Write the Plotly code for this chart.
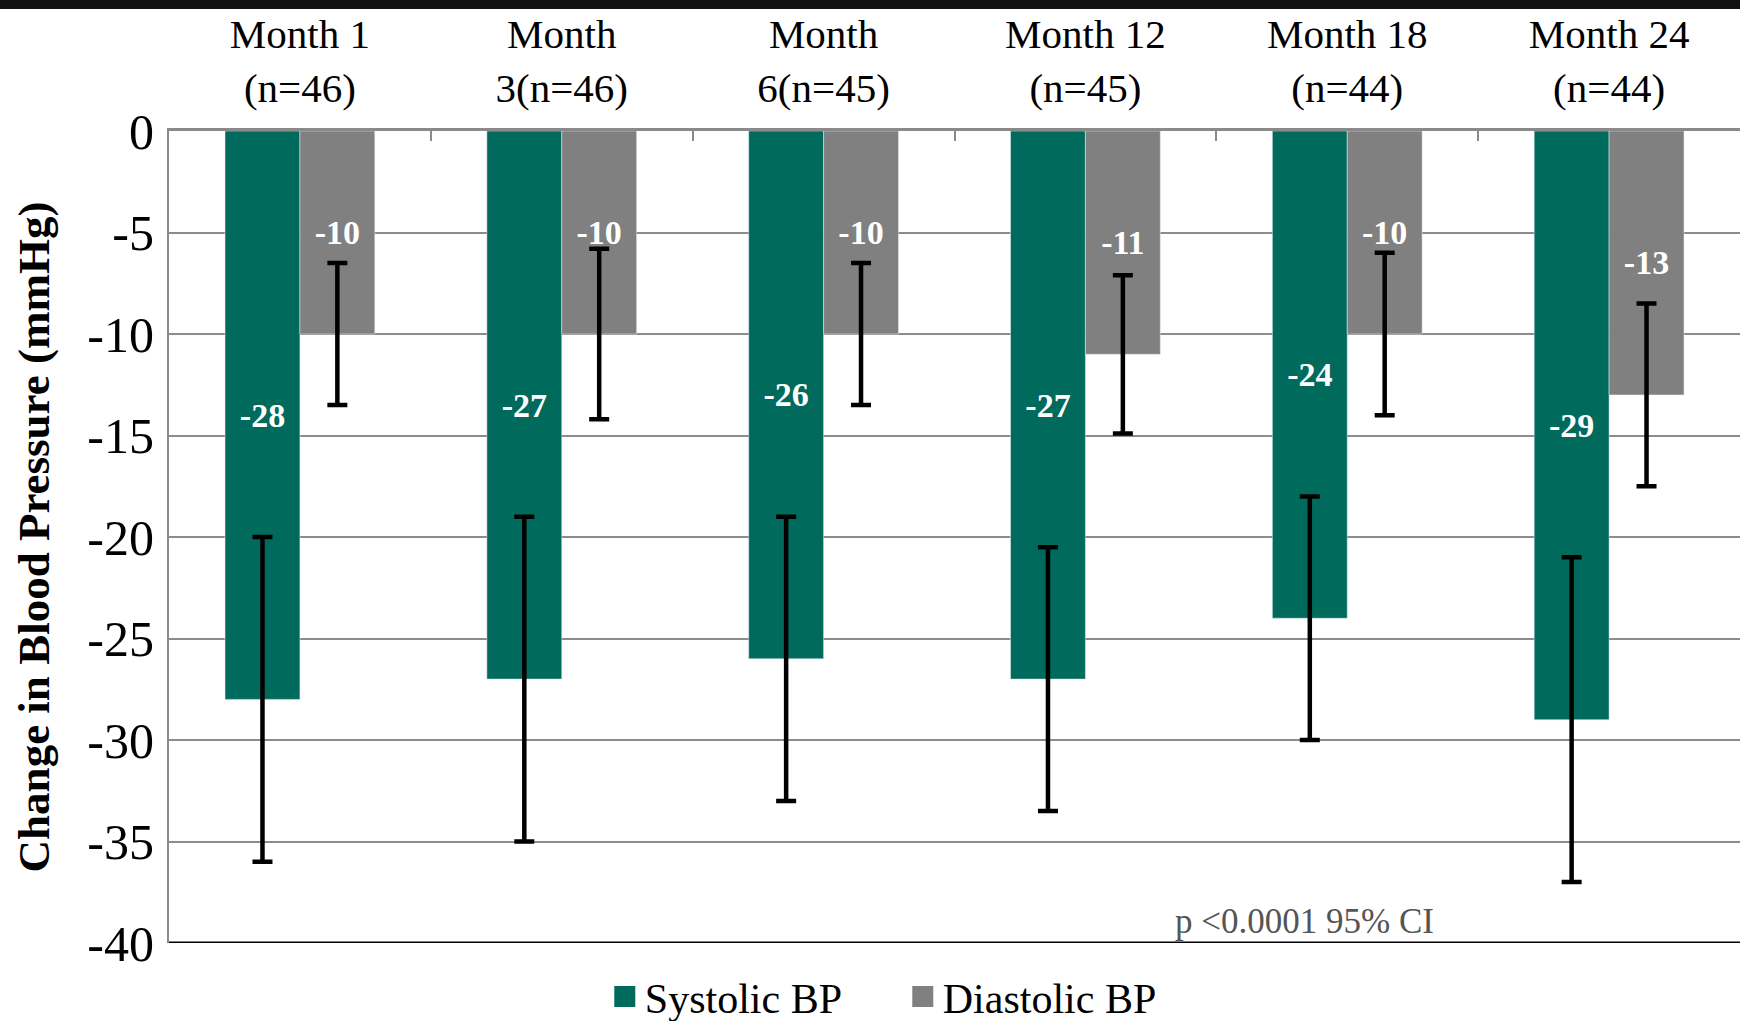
import plotly.graph_objects as go

categories = ["Month 1<br>(n=46)", "Month<br>3(n=46)", "Month<br>6(n=45)",
              "Month 12<br>(n=45)", "Month 18<br>(n=44)", "Month 24<br>(n=44)"]
systolic = [-28, -27, -26, -27, -24, -29]
diastolic = [-10, -10, -10, -11, -10, -13]
systolic_err = [8, 8, 7, 6.5, 6, 8]
diastolic_err = [3.5, 4.2, 3.5, 3.9, 4, 4.5]
y_ticks = [0, -5, -10, -15, -20, -25, -30, -35, -40]
series_names = ["Systolic BP", "Diastolic BP"]
note_text = "p <0.0001 95% CI"

SERIF = "Liberation Serif, Times New Roman, serif"
TEAL = "#006b5c"
GRAY = "#808080"

W, H = 1740, 1021
ML, MR, MT, MB = 169, 0, 131, 78
PH = H - MT - MB
PW = W - ML - MR

fig = go.Figure()
for name, vals, errs, col in [(series_names[0], systolic, systolic_err, TEAL),
                              (series_names[1], diastolic, diastolic_err, GRAY)]:
    fig.add_trace(go.Bar(
        name=name, x=categories, y=vals, marker_color=col, showlegend=False,
        text=[f"<b>{v}</b>" for v in vals], textposition="inside",
        insidetextanchor="middle", textangle=0,
        textfont=dict(family=SERIF, size=34, color="white"),
        error_y=dict(type="data", array=errs, color="black", thickness=4.5, width=10),
    ))
# legend entries with larger square swatches
for name, col in [(series_names[0], TEAL), (series_names[1], GRAY)]:
    fig.add_trace(go.Scatter(
        name=name, x=[None], y=[None], mode="markers",
        marker=dict(symbol="square", size=16, color=col, line=dict(color=col, width=5)),
        showlegend=True,
    ))

fig.update_layout(
    width=W, height=H,
    margin=dict(l=ML, r=MR, t=MT, b=MB, autoexpand=False),
    paper_bgcolor="white", plot_bgcolor="white",
    barmode="group", bargap=0.428, bargroupgap=0,
    font=dict(family=SERIF, color="black"),
    showlegend=True,
    legend=dict(orientation="h", x=(545 * 1.1097 - ML) / PW, xanchor="left",
                y=-0.066, yanchor="middle", entrywidth=253, entrywidthmode="pixels",
                font=dict(family=SERIF, size=42, color="black"), traceorder="normal",
                itemwidth=30, tracegroupgap=0),
    xaxis=dict(side="top", tickfont=dict(family=SERIF, size=41, color="black"),
               automargin=False,
               showline=True, linecolor="#8a8a8a", linewidth=3,
               ticks="inside", tickson="boundaries", ticklen=10, tickcolor="#8a8a8a",
               tickwidth=2, showgrid=False, range=[-0.5, 5.5], fixedrange=True,
               ticklabelstandoff=10),
    yaxis=dict(range=[-40, 0], tickvals=y_ticks, ticktext=[str(v) for v in y_ticks],
               tickfont=dict(family=SERIF, size=50, color="black"),
               automargin=False,
               showgrid=True, gridcolor="#8c8c8c", gridwidth=2,
               showline=True, linecolor="#8a8a8a", linewidth=2,
               zeroline=False, ticks="", ticklabelstandoff=3,
               title=dict(text="<b>Change in Blood Pressure (mmHg)</b>",
                          font=dict(family=SERIF, size=45, color="black"), standoff=24)),
    shapes=[
        dict(type="line", xref="paper", yref="y", x0=0, x1=1, y0=-40, y1=-40,
             line=dict(color="black", width=3), layer="above"),
        dict(type="rect", xref="paper", yref="paper", x0=-1, x1=1.1,
             y0=1 + (MT - 9) / PH, y1=1 + MT / PH + 0.01,
             fillcolor="#111111", line=dict(width=0), layer="above"),
    ],
    annotations=[
        dict(text=note_text, xref="paper", yref="y", x=(1173 - ML) / PW, y=-40,
             xanchor="left", yanchor="bottom", showarrow=False, yshift=0,
             font=dict(family=SERIF, size=35, color="#555555")),
    ],
)

fig.write_html("out.html", config={"displayModeBar": False},
               post_script="document.body.style.margin='0';document.body.style.overflow='hidden';")
